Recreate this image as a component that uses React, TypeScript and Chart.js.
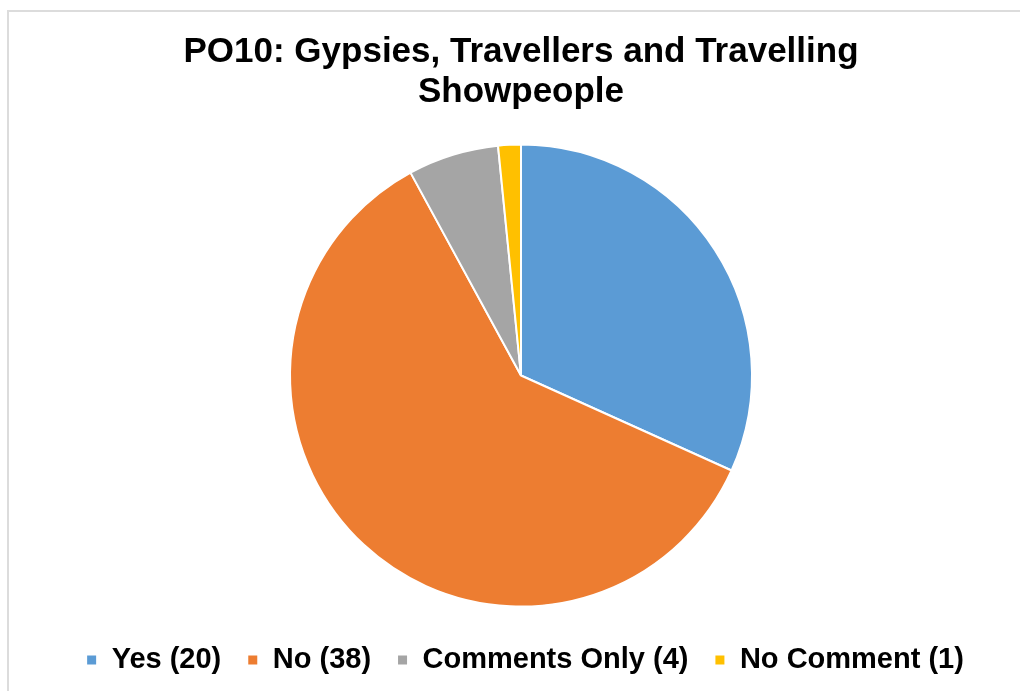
import React, { useEffect, useRef } from "react";
import { Chart, registerables } from "chart.js";

Chart.register(...registerables);

const titleLines = ["PO10: Gypsies, Travellers and Travelling", "Showpeople"];
const categories = ["Yes (20)", "No (38)", "Comments Only (4)", "No Comment (1)"];
const values = [20, 38, 4, 1];
const colors = ["#5b9bd5", "#ed7d31", "#a5a5a5", "#ffc000"];

const legendShift = {
  id: "legendShift",
  afterLayout(chart: any) {
    if (chart.legend) {
      chart.legend.left += 4;
      chart.legend.right += 4;
    }
  },
};

export default function App() {
  const ref = useRef<HTMLCanvasElement | null>(null);

  useEffect(() => {
    if (!ref.current) return;
    const chart = new Chart(ref.current, {
      type: "pie",
      data: {
        labels: categories,
        datasets: [
          {
            data: values,
            backgroundColor: colors,
            borderColor: "#ffffff",
            borderWidth: 2,
            radius: 231,
          },
        ],
      },
      plugins: [legendShift],
      options: {
        animation: false,
        responsive: false,
        layout: { padding: { left: 22, right: 0, top: 0, bottom: 6.5 } },
        plugins: {
          tooltip: { enabled: false },
          title: {
            display: true,
            text: titleLines,
            color: "#000000",
            font: { family: "'Liberation Sans', Arial, sans-serif", size: 35, weight: "bold", lineHeight: 1.143 },
            padding: { top: 32.5, bottom: 19 },
          },
          legend: {
            position: "bottom",
            labels: {
              color: "#000000",
              boxWidth: 11,
              boxHeight: 11,
              padding: 26,
              font: { family: "'Liberation Sans', Arial, sans-serif", size: 29, weight: "bold" },
            },
          },
        },
      },
    });
    return () => chart.destroy();
  }, []);

  return (
    <div style={{ position: "fixed", left: 0, top: 0, width: 1020, height: 691, background: "#ffffff", overflow: "hidden" }}>
      <div
        style={{
          position: "absolute",
          left: 7,
          top: 10,
          width: 1030,
          height: 700,
          borderLeft: "2px solid #dcdcdc",
          borderTop: "2px solid #dcdcdc",
        }}
      />
      <canvas ref={ref} width={1020} height={691} style={{ position: "absolute", left: 0, top: 0, display: "block" }} />
    </div>
  );
}
